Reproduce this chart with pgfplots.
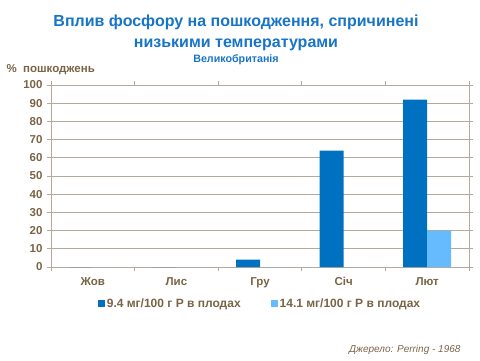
\documentclass[border=0pt]{standalone}
\usepackage{pgfplots}
\pgfplotsset{compat=1.18}
\usepackage{fontspec}
\setmainfont{Liberation Sans}
\definecolor{dblue}{HTML}{0070C0}
\definecolor{lblue}{HTML}{66BBFF}
\definecolor{ttl}{HTML}{1874C6}
\definecolor{brn}{HTML}{7A6446}
\definecolor{grd}{HTML}{B3AA9C}
\begin{document}
\begin{tikzpicture}[x=1pt,y=1pt]
\useasboundingbox (0,0) rectangle (480,360);
\begin{axis}[
  at={(51pt,93pt)}, anchor=south west,
  scale only axis, width=418pt, height=182pt,
  ybar=0pt, bar width=24pt,
  xmin=-0.5, xmax=4.5, ymin=0, ymax=100,
  ytick={0,10,...,100},
  xtick={0,1,2,3,4},
  xticklabels={Жов,Лис,Гру,Січ,Лют},
  minor xtick={-0.5,0.5,1.5,2.5,3.5,4.5},
  major x tick style={draw=none},
  tick align=outside,
  tick style={grd, line width=0.8pt},
  major tick length=4pt, minor tick length=4pt,
  ymajorgrids, grid style={grd, line width=0.8pt},
  axis line style={grd, line width=0.8pt},
  ticklabel style={font=\bfseries\fontsize{11.5}{13}\selectfont, text=brn},
  /pgf/number format/assume math mode=true,
  yticklabel style={xshift=-1pt},
  xticklabel style={yshift=-3pt},
  legend columns=2,
  legend style={draw=none, at={(0.5,-0.15)}, anchor=north, font=\bfseries\fontsize{12}{14}\selectfont, text=brn, /tikz/every even column/.append style={column sep=28pt}},
  legend image code/.code={\fill[#1] (0pt,-3pt) rectangle (7pt,4pt);},
]
\addplot[fill=dblue, draw=none] coordinates {(0,0) (1,0) (2,4) (3,64) (4,92)};
\addplot[fill=lblue, draw=none] coordinates {(0,0) (1,0) (2,0) (3,0) (4,20)};
\legend{9.4 мг/100 г Р в плодах, 14.1 мг/100 г Р в плодах}
\end{axis}
\node[font=\bfseries\fontsize{16}{21}\selectfont, text=ttl, align=center] at (236,327) {Вплив фосфору на пошкодження, спричинені\\низькими температурами};
\node[font=\bfseries\fontsize{10.7}{12}\selectfont, text=ttl] at (236,300) {Великобританія};
\node[font=\bfseries\fontsize{11.5}{13}\selectfont, text=brn, anchor=west] at (3,290) {\%\ \ пошкоджень};
\node[font=\itshape\fontsize{10}{12}\selectfont, text=brn, anchor=east] at (464,10) {Джерело: Perring - 1968};
\end{tikzpicture}
\end{document}
